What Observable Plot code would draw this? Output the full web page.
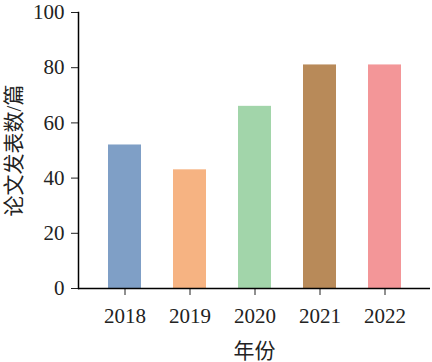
<!DOCTYPE html>
<html>
<head>
<meta charset="utf-8">
<script src="https://cdn.jsdelivr.net/npm/d3@7"></script>
<script src="https://cdn.jsdelivr.net/npm/@observablehq/plot@0.6"></script>
<style>
  html, body { margin: 0; padding: 0; background: #fff; }
  #chart svg { display: block; }
</style>
</head>
<body>
<div id="chart"></div>
<script>
const years = ["2018", "2019", "2020", "2021", "2022"];
const counts = [52, 43, 66, 81, 81];
const colors = ["#7f9fc6", "#f6b382", "#a2d5aa", "#b88a59", "#f39698"];
const yTicks = [0, 20, 40, 60, 80, 100];

const data = years.map((y, i) => ({year: y, count: counts[i]}));

const chart = Plot.plot({
  width: 432,
  height: 362,
  marginLeft: 78,
  marginRight: 2,
  marginTop: 12,
  marginBottom: 74,
  style: {fontFamily: "'Liberation Serif', 'Noto Sans CJK SC', serif", fontSize: "21px", color: "#222", background: "#fff"},
  x: {domain: years, paddingInner: 0.5, paddingOuter: 0.42},
  y: {domain: [0, 100]},
  color: {domain: years, range: colors},
  marks: [
    Plot.barY(data, {x: "year", y: "count", fill: "year"}),
    Plot.axisX({tickSize: 7, tickPadding: 13, label: "年份", labelArrow: "none", labelAnchor: "center", labelOffset: 69, fontSize: 21}),
    Plot.axisY({ticks: yTicks, tickSize: 7, tickPadding: 7, label: "论文发表数/篇", labelArrow: "none", labelAnchor: "center", labelOffset: 72, fontSize: 21}),
    Plot.ruleY([0], {stroke: "#000", strokeWidth: 1.5}),
    Plot.frame({anchor: "left", stroke: "#000", strokeWidth: 1.5})
  ]
});
document.getElementById("chart").appendChild(chart);
</script>
</body>
</html>
